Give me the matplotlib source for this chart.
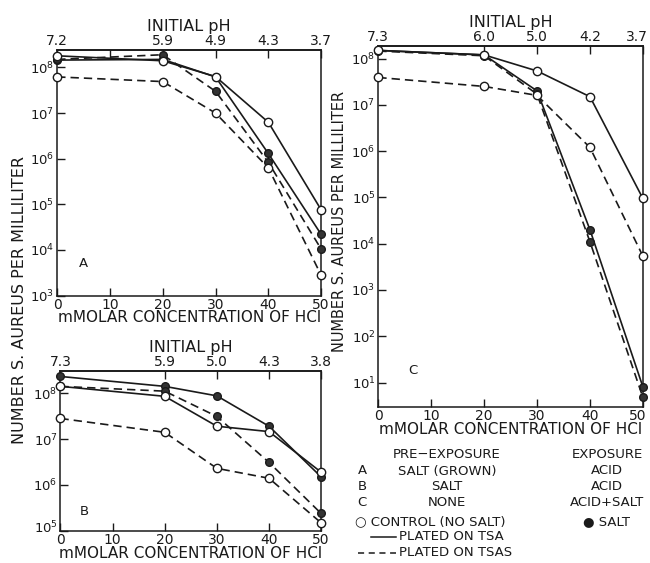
import numpy as np
import matplotlib
matplotlib.use('Agg')
import matplotlib.pyplot as plt
from matplotlib.ticker import FixedLocator, LogFormatterMathtext, NullLocator
from matplotlib.transforms import ScaledTranslation

#------------- Data -------------#
hcl = [0, 20, 30, 40, 50]   # mM HCl

ph_a = ['7.2', '5.9', '4.9', '4.3', '3.7']
ph_b = ['7.3', '5.9', '5.0', '4.3', '3.8']
ph_c = ['7.3', '6.0', '5.0', '4.2', '3.7']

# Panel A: pre-exposure salt (grown), exposure acid
a_ctrl_tsa  = [1.8e8, 1.4e8, 6.3e7, 6.3e6, 7.6e4]
a_ctrl_tsas = [6.2e7, 4.9e7, 1.0e7, 6.3e5, 2.8e3]
a_salt_tsa  = [1.45e8, 1.5e8, 6.2e7, 1.3e6, 2.2e4]
a_salt_tsas = [1.5e8, 1.9e8, 3.0e7, 8.3e5, 1.05e4]

# Panel B: pre-exposure salt, exposure acid
b_ctrl_tsa  = [1.4e8, 8.5e7, 1.9e7, 1.45e7, 1.9e6]
b_ctrl_tsas = [2.8e7, 1.4e7, 2.3e6, 1.4e6, 1.5e5]
b_salt_tsa  = [2.3e8, 1.4e8, 8.7e7, 1.9e7, 1.5e6]
b_salt_tsas = [1.4e8, 1.1e8, 3.1e7, 3.1e6, 2.4e5]

# Panel C: pre-exposure none, exposure acid + salt
c_ctrl_tsa  = [1.5e8, 1.2e8, 5.4e7, 1.5e7, 9.5e4]
c_ctrl_tsas = [3.9e7, 2.5e7, 1.6e7, 1.2e6, 5.4e3]
c_salt_tsa  = [1.5e8, 1.2e8, 2.0e7, 2.0e4, 8.1]
c_salt_tsas = [1.45e8, 1.15e8, 1.7e7, 1.1e4, 4.8]

YLABEL = 'NUMBER S. AUREUS PER MILLILITER'
XLABEL = 'mMOLAR CONCENTRATION OF HCl'

plt.rcParams['font.family'] = 'DejaVu Sans'
plt.rcParams['mathtext.default'] = 'regular'
FS = 10.5
INK = '#1a1a1a'


def draw_panel(ax, ctrl_tsa, ctrl_tsas, salt_tsa, salt_tsas, ph, ylim,
               decades, letter, letter_xy, top_ticks):
    """ Draws one survival panel on a log axis with an HCl/pH double x axis. """
    # salt (filled) first, controls (open) on top
    for y, ls in ((salt_tsa, '-'), (salt_tsas, (0, (5, 3)))):
        ax.plot(hcl, y, color=INK, lw=1.2, linestyle=ls, marker='o', ms=5.5,
                mfc='#333333', mec=INK, mew=1.0, zorder=3, clip_on=False)
    for y, ls in ((ctrl_tsa, '-'), (ctrl_tsas, (0, (5, 3)))):
        ax.plot(hcl, y, color=INK, lw=1.2, linestyle=ls, marker='o', ms=6,
                mfc='white', mec=INK, mew=1.0, zorder=4, clip_on=False)

    ax.set_yscale('log')
    ax.set_xlim(0, 50)
    ax.set_ylim(*ylim)
    ax.yaxis.set_major_locator(FixedLocator([10.0 ** d for d in decades]))
    ax.yaxis.set_major_formatter(LogFormatterMathtext())
    ax.yaxis.set_minor_locator(NullLocator())
    ax.set_xticks([0, 10, 20, 30, 40, 50])
    ax.tick_params(axis='both', direction='in', length=6, width=1.0,
                   labelsize=10, colors=INK, pad=1.5)
    ax.tick_params(axis='y', pad=2, labelsize=9.5)
    for s in ax.spines.values():
        s.set_linewidth(1.1)
        s.set_color(INK)
    ax.set_xlabel(XLABEL, fontsize=11, labelpad=-1, color=INK)

    top = ax.secondary_xaxis('top')
    top.set_xticks(top_ticks)
    top.set_xticklabels([ph[hcl.index(t)] if t in hcl else '' for t in top_ticks])
    top.tick_params(direction='in', length=6, width=1.0, labelsize=10,
                    colors=INK, pad=1.5)
    top.spines['top'].set_linewidth(1.1)
    top.set_xlabel('INITIAL pH', fontsize=11.5, labelpad=2, color=INK)

    ax.text(*letter_xy, letter, transform=ax.transAxes, fontsize=FS - 1,
            color=INK, ha='center', va='center')
    return top


fig = plt.figure(figsize=(6.5, 5.63), dpi=100)

ax_a = fig.add_axes([0.088, 0.475, 0.406, 0.436])
draw_panel(ax_a, a_ctrl_tsa, a_ctrl_tsas, a_salt_tsa, a_salt_tsas, ph_a,
           (1e3, 10 ** 8.38), range(3, 9), 'A', (0.10, 0.13),
           [0, 10, 20, 30, 40, 50])

ax_b = fig.add_axes([0.093, 0.057, 0.401, 0.284])
draw_panel(ax_b, b_ctrl_tsa, b_ctrl_tsas, b_salt_tsa, b_salt_tsas, ph_b,
           (1e5, 10 ** 8.48), range(5, 9), 'B', (0.09, 0.12),
           [0, 20, 30, 40, 50])

ax_c = fig.add_axes([0.582, 0.277, 0.407, 0.642])
top_c = draw_panel(ax_c, c_ctrl_tsa, c_ctrl_tsas, c_salt_tsa, c_salt_tsas,
                   ph_c, (10 ** 0.47, 10 ** 8.28), range(1, 9), 'C',
                   (0.13, 0.10), [0, 20, 30, 40, 50])

# nudge the right-most labels of panel C so they stay inside the figure
shift = ScaledTranslation(-4 / 72, 0, fig.dpi_scale_trans)
for lab in (ax_c.get_xticklabels()[-1], top_c.get_xticklabels()[-1]):
    lab.set_transform(lab.get_transform() + shift)
# and lift the bottom decade label of B off the "0"
lift = ScaledTranslation(0, 3 / 72, fig.dpi_scale_trans)
lab = ax_b.get_yticklabels()[0]
lab.set_transform(lab.get_transform() + lift)

fig.text(20 / 650, 1 - 300 / 563, YLABEL, rotation=90, ha='center',
         va='center', fontsize=11.5, color=INK)
fig.text(339 / 650, 1 - 221 / 563, YLABEL, rotation=90, ha='center',
         va='center', fontsize=10.5, color=INK)

#------------- Key -------------#
def fx(px):
    return px / 650


def fy(py):
    return 1 - py / 563


kw = dict(fontsize=FS - 1, color=INK, va='center')
fig.text(fx(447), fy(455), 'PRE\u2212EXPOSURE', ha='center', **kw)
fig.text(fx(607), fy(455), 'EXPOSURE', ha='center', **kw)
for row, (tag, pre, exp) in enumerate((('A', 'SALT (GROWN)', 'ACID'),
                                        ('B', 'SALT', 'ACID'),
                                        ('C', 'NONE', 'ACID+SALT'))):
    yy = fy(471 + row * 15.5)
    fig.text(fx(362), yy, tag, ha='center', **kw)
    fig.text(fx(447), yy, pre, ha='center', **kw)
    fig.text(fx(607), yy, exp, ha='center', **kw)

fig.text(fx(355), fy(522), '\u25cb CONTROL (NO SALT)', ha='left', **kw)
fig.text(fx(583), fy(522), '\u25cf SALT', ha='left', **kw)
fig.add_artist(plt.Line2D([fx(371), fx(396)], [fy(537), fy(537)],
                          color=INK, lw=1.1))
fig.text(fx(399), fy(537), 'PLATED ON TSA', ha='left', **kw)
fig.add_artist(plt.Line2D([fx(358), fx(396)], [fy(553), fy(553)],
                          color=INK, lw=1.1, linestyle=(0, (4, 3))))
fig.text(fx(399), fy(553), 'PLATED ON TSAS', ha='left', **kw)

fig.savefig('out.png', dpi=100)
